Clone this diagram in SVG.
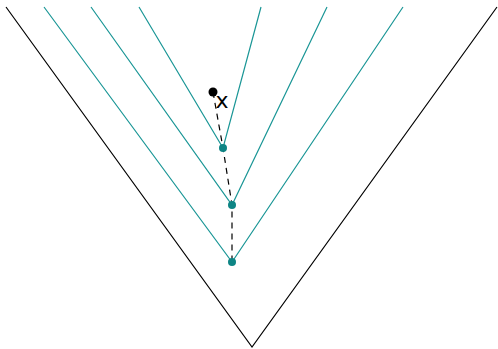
<svg xmlns="http://www.w3.org/2000/svg" width="498" height="349" viewBox="0 0 498 349">
<style>
.t{stroke:#1a9696;stroke-width:1.2;fill:none}
.k{stroke:#000;stroke-width:1.2;fill:none}
.d{stroke:#000;stroke-width:1.2;stroke-dasharray:6,5;fill:none}
.p{fill:#0e8585}
</style>
<rect width="498" height="349" fill="#fff"/>
<g id="connectors">
<polyline class="k" points="6,7 252,347 497,7"/>
<polyline class="t" points="44,7 232,262 403,7"/>
<polyline class="t" points="91,7 232,205 327,7"/>
<polyline class="t" points="139,7 223,148 261,7"/>
<polyline class="d" points="213,92 223,148 232,205 232,262"/>
</g>
<g id="n1"><circle class="p" cx="223" cy="148" r="4"/></g>
<g id="n2"><circle class="p" cx="232" cy="205" r="4"/></g>
<g id="n3"><circle class="p" cx="232" cy="262" r="4"/></g>
<g id="x"><circle cx="213" cy="92" r="4.5" fill="#000"/>
<text x="222" y="107.5" font-family="DejaVu Sans, sans-serif" font-size="22" text-anchor="middle">x</text></g>
</svg>
